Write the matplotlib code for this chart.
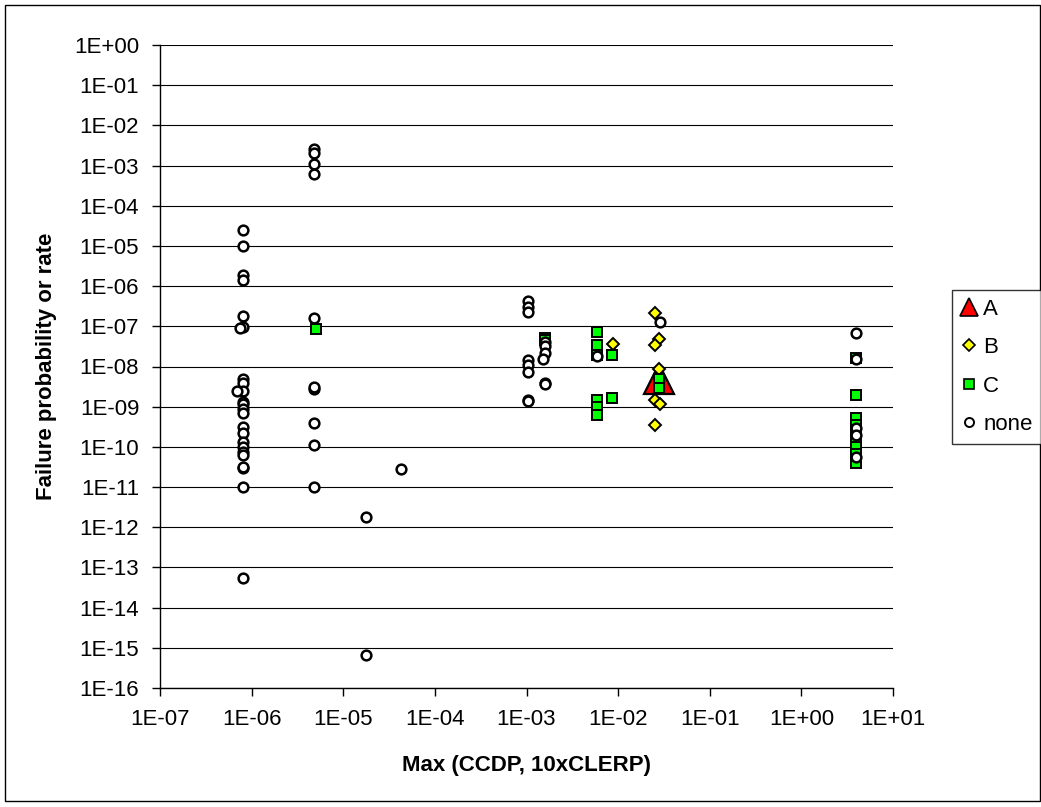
import matplotlib
matplotlib.use("Agg")
import matplotlib.pyplot as plt
from matplotlib.lines import Line2D
from matplotlib.patches import Rectangle
from matplotlib.ticker import FixedLocator, FuncFormatter, NullLocator

plt.rcParams["font.family"] = ["Liberation Sans", "DejaVu Sans"]

# ---- data ----
a_x = [2.8e-2]
a_y = [5.0e-9]

b_x = [8.8e-3, 2.5e-2, 2.8e-2, 2.5e-2, 2.8e-2, 2.5e-2, 2.9e-2, 2.5e-2]
b_y = [3.6e-8, 2.1e-7, 4.9e-8, 3.4e-8, 8.7e-9, 1.5e-9, 1.2e-9, 3.5e-10]

c_x = [5e-6, 1.6e-3, 1.6e-3,
       5.9e-3, 5.9e-3, 5.9e-3, 5.9e-3, 5.9e-3, 5.9e-3,
       8.6e-3, 8.6e-3, 2.8e-2, 2.8e-2,
       3.9, 3.9, 3.9, 3.9, 3.9, 3.9, 3.9, 3.9, 3.9]
c_y = [8.5e-8, 5.2e-8, 4.5e-8,
       7.1e-8, 3.5e-8, 1.9e-8, 1.5e-9, 9.8e-10, 6.3e-10,
       1.9e-8, 1.6e-9, 4.9e-9, 2.9e-9,
       1.6e-8, 1.9e-9, 5.2e-10, 3.5e-10, 2.4e-10, 1.6e-10, 1.0e-10, 6.5e-11, 4e-11]

n_x = [8e-7] * 6 + [7.5e-7] + [8e-7] * 3 + [7e-7] + [8e-7] * 14 \
    + [4.8e-6] * 10 \
    + [1.75e-5, 1.75e-5, 4.3e-5] \
    + [1.05e-3] * 8 + [1.6e-3] * 5 + [1.5e-3] \
    + [5.9e-3, 2.9e-2] \
    + [3.9] * 5
n_y = [2.5e-5, 1.0e-5, 1.9e-6, 1.4e-6, 1.8e-7, 9.5e-8, 9e-8, 5e-9, 3.8e-9,
       2.5e-9, 2.4e-9, 1.3e-9, 1.2e-9, 9e-10, 7e-10, 3.2e-10, 2.2e-10, 1.35e-10,
       1e-10, 7.6e-11, 6.3e-11, 3e-11, 3.2e-11, 1e-11, 5.5e-14,
       2.6e-3, 2.0e-3, 1.1e-3, 6e-4, 1.6e-7, 2.8e-9, 3.1e-9, 4e-10, 1.1e-10, 1e-11,
       6.5e-16, 1.8e-12, 2.8e-11,
       4.3e-7, 3.0e-7, 2.3e-7, 1.45e-8, 1.1e-8, 7.5e-9, 1.5e-9, 1.4e-9,
       4e-8, 3.2e-8, 2.2e-8, 3.9e-9, 3.7e-9, 1.5e-8,
       1.8e-8, 1.3e-7,
       6.7e-8, 1.5e-8, 3e-10, 2e-10, 5.5e-11]

x_exp = list(range(-7, 2))
y_exp = list(range(-16, 1))


def sci(v, pos):
    import math
    return "1E%+03d" % round(math.log10(v))


W, H = 1041, 807
fig = plt.figure(figsize=(W / 100, H / 100), dpi=100)
ax = fig.add_axes([160 / W, 1 - 688 / H, (893 - 160) / W, (688 - 45) / H])

# chart-area border
fig.patches.append(Rectangle((5 / W, 6 / H), 1035 / W, 796 / H, transform=fig.transFigure,
                             fill=False, ec="black", lw=1.0))

ax.plot(a_x, a_y, ls="none", marker="^", ms=22, mfc="#ff0000", mec="black", mew=1.6, zorder=3)
ax.plot(b_x, b_y, ls="none", marker="D", ms=6.5, mfc="#ffff00", mec="black", mew=1.4, zorder=4)
ax.plot(c_x, c_y, ls="none", marker="s", ms=7.5, mfc="#00ff00", mec="black", mew=1.4, zorder=5)
ax.plot(n_x, n_y, ls="none", marker="o", ms=7, mfc="white", mec="black", mew=1.8, zorder=6)

ax.set_xscale("log")
ax.set_yscale("log")
ax.set_xlim(1e-7, 1e1)
ax.set_ylim(1e-16, 1e0)
ax.xaxis.set_major_locator(FixedLocator([10.0 ** e for e in x_exp]))
ax.yaxis.set_major_locator(FixedLocator([10.0 ** e for e in y_exp]))
ax.xaxis.set_minor_locator(NullLocator())
ax.yaxis.set_minor_locator(NullLocator())
ax.xaxis.set_major_formatter(FuncFormatter(sci))
ax.yaxis.set_major_formatter(FuncFormatter(sci))
ax.tick_params(axis="both", labelsize=16, direction="out", length=6, width=1, color="black")
ax.tick_params(axis="x", pad=9)
ax.tick_params(axis="y", pad=9)

ax.yaxis.grid(True, color="black", lw=0.8)
ax.set_axisbelow(True)
for s in ("top", "right"):
    ax.spines[s].set_visible(False)
for s in ("left", "bottom"):
    ax.spines[s].set_linewidth(1.0)

ax.set_xlabel("Max (CCDP, 10xCLERP)", fontsize=16, fontweight="bold", labelpad=18)
ax.set_ylabel("Failure probability or rate", fontsize=16, fontweight="bold", labelpad=12)

handles = [
    Line2D([], [], ls="none", marker="^", ms=13, mfc="#ff0000", mec="black", mew=1.2, label="A"),
    Line2D([], [], ls="none", marker="D", ms=6, mfc="#ffff00", mec="black", mew=1.2, label="B"),
    Line2D([], [], ls="none", marker="s", ms=7, mfc="#00ff00", mec="black", mew=1.2, label="C"),
    Line2D([], [], ls="none", marker="o", ms=6.5, mfc="white", mec="black", mew=1.4, label="none"),
]
leg = fig.legend(handles=handles, loc="upper left", bbox_to_anchor=(952 / W, 1 - 290 / H),
                 fontsize=16, frameon=True, fancybox=False, edgecolor="black",
                 handlelength=0.7, handletextpad=0.3, labelspacing=0.78,
                 borderpad=0.4, borderaxespad=0)
leg.get_frame().set_linewidth(1.0)

fig.savefig("out.png", dpi=100)
